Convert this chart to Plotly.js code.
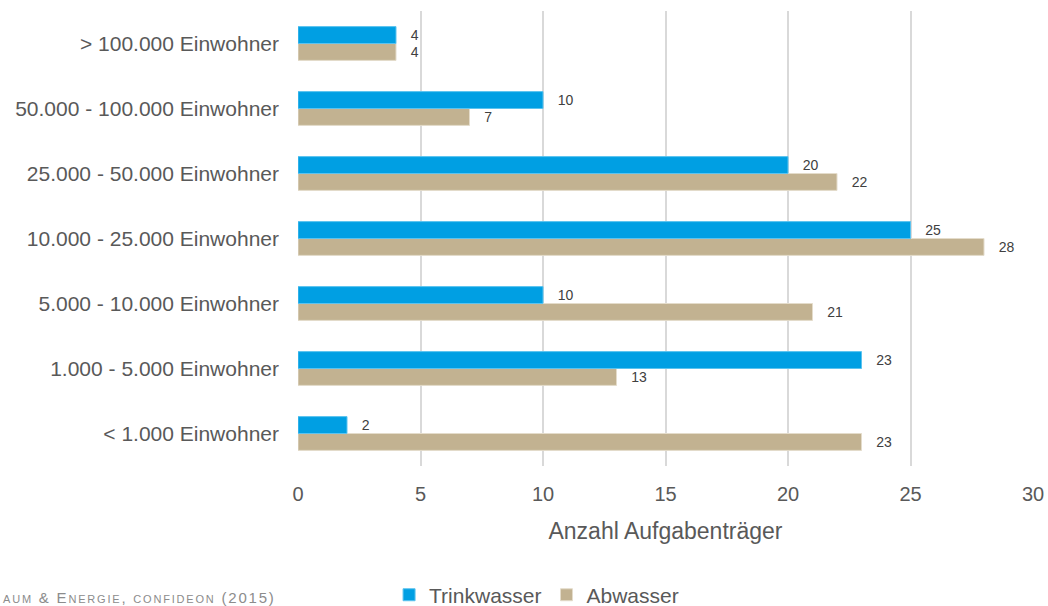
<!DOCTYPE html>
<html>
<head>
<meta charset="utf-8">
<script src="https://cdn.plot.ly/plotly-3.0.1.min.js"></script>
<style>
  html, body { margin: 0; padding: 0; background: #fff; }
  #chart { width: 1048px; height: 606px; }
</style>
</head>
<body>
<div id="chart"></div>
<script>
// categories bottom to top
const categories = [
    '< 1.000 Einwohner',
    '1.000 - 5.000 Einwohner',
    '5.000 - 10.000 Einwohner',
    '10.000 - 25.000 Einwohner',
    '25.000 - 50.000 Einwohner',
    '50.000 - 100.000 Einwohner',
    '> 100.000 Einwohner'
];
const trinkwasser = [2, 23, 10, 25, 20, 10, 4];
const abwasser = [23, 13, 21, 28, 22, 7, 4];
const xTicks = [0, 5, 10, 15, 20, 25, 30];

const textColor = '#595959';
const fontFamily = '"Liberation Sans", Arial, Helvetica, sans-serif';

function barTrace(name, values, color, lineColor) {
    return {
        type: 'bar',
        orientation: 'h',
        name: name,
        y: categories,
        x: values,
        text: values.map(String),
        texttemplate: '   %{text}',
        textposition: 'outside',
        cliponaxis: false,
        textfont: { size: 14, color: '#404040', family: fontFamily },
        marker: { color: color, line: { color: lineColor, width: 1 } },
        hoverinfo: 'x+name'
    };
}

// Abwasser first so Trinkwasser sits on top inside each group
const traces = [
    barTrace('Abwasser', abwasser, '#c2b291', '#e4dccb'),
    barTrace('Trinkwasser', trinkwasser, '#009fe3', '#5cc3ef')
];

// source line, small caps imitated with smaller spans
const sc = s => '<span style="font-size:11px">' + s + '</span>';
const sourceText = '<span style="letter-spacing:1.8px">' + sc('AUM') + ' &amp; E' + sc('NERGIE') + ', ' +
    sc('CONFIDEON') + ' (2015)</span>';

const layout = {
    width: 1048,
    height: 606,
    margin: { l: 298, r: 15, t: 11, b: 140, autoexpand: false },
    paper_bgcolor: '#ffffff',
    plot_bgcolor: '#ffffff',
    font: { family: fontFamily, color: textColor },
    barmode: 'group',
    bargap: 0.48,
    bargroupgap: 0,
    showlegend: true,
    legend: {
        orientation: 'h',
        traceorder: 'reversed',
        x: 0.512, xanchor: 'center',
        xref: 'container',
        yref: 'container',
        y: 0.018, yanchor: 'middle',
        font: { size: 21, color: textColor },
        itemwidth: 30,
        tracegroupgap: 0
    },
    xaxis: {
        range: [0, 30],
        tickvals: xTicks,
        ticktext: xTicks.map(String),
        showgrid: true,
        gridcolor: '#d9d9d9',
        gridwidth: 2,
        zeroline: false,
        showline: false,
        ticks: '',
        tickfont: { size: 20, color: textColor },
        ticklabelstandoff: 14,
        title: { text: 'Anzahl Aufgabenträger', font: { size: 23, color: textColor }, standoff: 18 }
    },
    yaxis: {
        type: 'category',
        categoryorder: 'array',
        categoryarray: categories,
        showgrid: false,
        zeroline: false,
        showline: false,
        ticks: '',
        ticklabelstandoff: 18,
        tickfont: { size: 21, color: textColor }
    },
    annotations: [{
        xref: 'paper', yref: 'paper',
        x: -0.4045, y: -0.289,
        xanchor: 'left', yanchor: 'middle',
        showarrow: false,
        align: 'left',
        font: { size: 15, color: '#8c8c8c', family: fontFamily },
        text: sourceText
    }]
};

Plotly.newPlot('chart', traces, layout, { displayModeBar: false, responsive: false });
</script>
</body>
</html>
